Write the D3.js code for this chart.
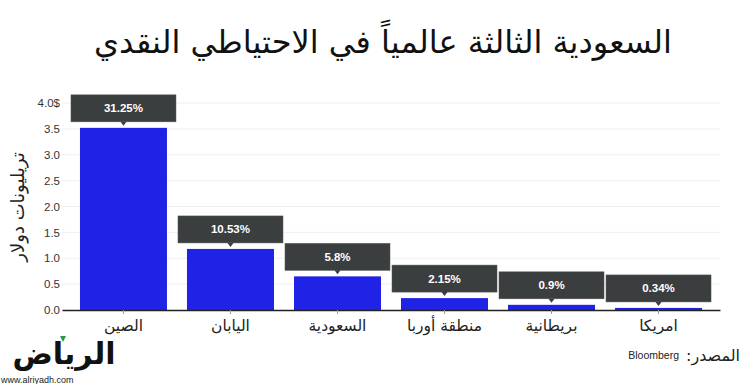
<!DOCTYPE html>
<html>
<head>
<meta charset="utf-8">
<script src="https://cdn.jsdelivr.net/npm/d3@7"></script>
<style>
  html, body { margin: 0; padding: 0; background: #fff; }
  svg { display: block; }
</style>
</head>
<body>
<div id="chart"></div>
<script>
// data
const categories = ["الصين", "اليابان", "السعودية", "منطقة أوربا", "بريطانية", "امريكا"];
const values = [3.52, 1.18, 0.65, 0.23, 0.10, 0.04];   // trillion dollars
const shares = ["31.25%", "10.53%", "5.8%", "2.15%", "0.9%", "0.34%"];
const yTicks = [0, 0.5, 1.0, 1.5, 2.0, 2.5, 3.0, 3.5, 4.0];

const width = 750, height = 384;
const plotLeft = 62, plotRight = 720, plotBottom = 310, plotTop = 103;

const svg = d3.select("#chart").append("svg")
    .attr("width", width)
    .attr("height", height)
    .attr("viewBox", `0 0 ${width} ${height}`);

//title
svg.append("text")
    .attr("x", 383)
    .attr("y", 53)
    .attr("text-anchor", "middle")
    .attr("font-family", "DejaVu Sans")
    .attr("font-size", "32px")
    .attr("fill", "#111")
    .attr("direction", "rtl")
    .text("السعودية الثالثة عالمياً في الاحتياطي النقدي");

//scales
const x = d3.scaleBand()
    .domain(categories)
    .range([plotLeft, plotRight])
    .paddingInner(0.187)
    .paddingOuter(0.168);

const y = d3.scaleLinear().domain([0, 4]).range([plotBottom, plotTop]);

//grid
svg.append("g")
    .selectAll("line")
    .data(yTicks.filter(d => d > 0))
    .join("line")
    .attr("x1", plotLeft)
    .attr("x2", plotRight)
    .attr("y1", d => y(d))
    .attr("y2", d => y(d))
    .attr("stroke", "#efefef")
    .attr("stroke-width", 1);

//y axis labels
const yAxis = d3.axisLeft(y)
    .tickValues(yTicks)
    .tickSize(0)
    .tickPadding(2)
    .tickFormat(d => d === 4 ? "4.0$" : d3.format(".1f")(d));
svg.append("g")
    .attr("class", "y-axis")
    .attr("transform", `translate(${plotLeft},0)`)
    .call(yAxis)
    .call(g => g.select(".domain").remove())
    .call(g => g.selectAll("text")
        .attr("font-family", "Liberation Sans")
        .attr("font-size", "11.5px")
        .attr("fill", "#333"));

svg.append("text")
    .attr("transform", "rotate(-90)")
    .attr("x", -207)
    .attr("y", 24)
    .attr("text-anchor", "middle")
    .attr("font-family", "DejaVu Sans")
    .attr("font-size", "18px")
    .attr("fill", "#222")
    .attr("direction", "rtl")
    .text("تريليونات دولار");

//bars
svg.append("g")
    .selectAll("rect")
    .data(values)
    .join("rect")
    .attr("x", (d, i) => x(categories[i]))
    .attr("y", d => y(d))
    .attr("width", x.bandwidth())
    .attr("height", d => plotBottom - y(d))
    .attr("fill", "#2023e6");

//x axis
const xAxis = d3.axisBottom(x).tickSize(4).tickPadding(6).tickSizeOuter(0);
svg.append("g")
    .attr("class", "x-axis")
    .attr("transform", `translate(0,${plotBottom})`)
    .call(xAxis)
    .call(g => g.select(".domain").attr("stroke", "#222").attr("stroke-width", 1.5))
    .call(g => g.selectAll(".tick line").attr("stroke", "#999"))
    .call(g => g.selectAll("text")
        .attr("font-family", "DejaVu Sans")
        .attr("font-size", "15.5px")
        .attr("fill", "#222")
        .attr("direction", "rtl"));

//share labels
const boxH = 27, boxPad = 9;
const labels = svg.append("g")
    .selectAll("g")
    .data(values)
    .join("g");

labels.append("rect")
    .attr("x", (d, i) => x(categories[i]) - boxPad)
    .attr("y", d => y(d) - 6 - boxH)
    .attr("width", x.bandwidth() + 2 * boxPad)
    .attr("height", boxH)
    .attr("fill", "#3b3e3f")
    .attr("stroke", "#555")
    .attr("stroke-width", 0.5);

labels.append("path")
    .attr("d", (d, i) => {
        const cx = x(categories[i]) + x.bandwidth() / 2;
        const b = y(d) - 6;
        return `M${cx - 3},${b} L${cx + 3},${b} L${cx},${b + 4} Z`;
    })
    .attr("fill", "#3b3e3f");

labels.append("text")
    .attr("x", (d, i) => x(categories[i]) + x.bandwidth() / 2)
    .attr("y", d => y(d) - 6 - boxH / 2 + 4)
    .attr("text-anchor", "middle")
    .attr("font-family", "Liberation Sans")
    .attr("font-weight", "bold")
    .attr("font-size", "11.5px")
    .attr("fill", "#fff")
    .text((d, i) => shares[i]);

//source (rtl: start anchor = right edge)
svg.append("text")
    .attr("x", 740)
    .attr("y", 361)
    .attr("text-anchor", "start")
    .attr("font-family", "DejaVu Sans")
    .attr("font-size", "16px")
    .attr("fill", "#222")
    .attr("direction", "rtl")
    .text("المصدر:");
svg.append("text")
    .attr("x", 679)
    .attr("y", 359)
    .attr("text-anchor", "end")
    .attr("font-family", "Liberation Sans Narrow, Liberation Sans")
    .attr("font-size", "10.5px")
    .attr("fill", "#222")
    .text("Bloomberg");

//logo
svg.append("text")
    .attr("x", 64)
    .attr("y", 364)
    .attr("text-anchor", "middle")
    .attr("font-family", "DejaVu Sans")
    .attr("font-weight", "bold")
    .attr("font-size", "30px")
    .attr("fill", "#111")
    .attr("direction", "rtl")
    .text("الرياض");
svg.append("path")
    .attr("d", "M60,336 L66,336 L63,342 Z")
    .attr("fill", "#2a9a4a");
svg.append("text")
    .attr("x", 1)
    .attr("y", 383)
    .attr("font-family", "Liberation Sans Narrow, Liberation Sans")
    .attr("font-size", "9px")
    .attr("fill", "#222")
    .text("www.alriyadh.com");
</script>
</body>
</html>
